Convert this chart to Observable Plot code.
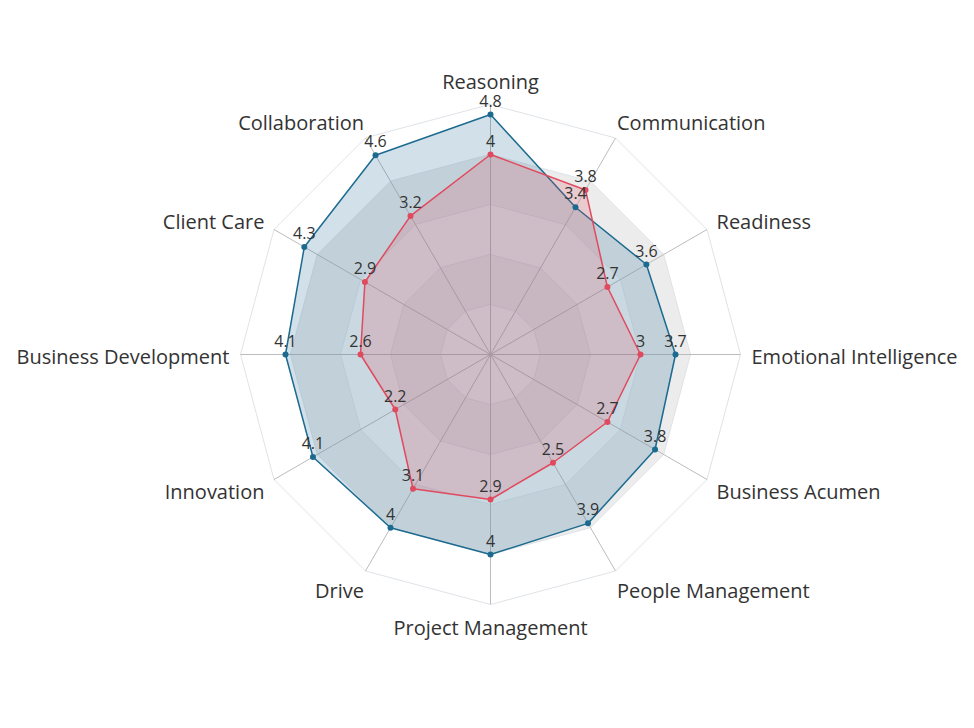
<!DOCTYPE html>
<html>
<head>
<meta charset="utf-8">
<script src="https://cdn.jsdelivr.net/npm/d3@7"></script>
<script src="https://cdn.jsdelivr.net/npm/@observablehq/plot@0.6"></script>
<style>
  html, body { margin: 0; padding: 0; background: #fff; }
  #chart svg { display: block; }
</style>
</head>
<body>
<div id="chart"></div>
<script>
// ---- data ----
const axes = [
  "Reasoning", "Communication", "Readiness", "Emotional Intelligence",
  "Business Acumen", "People Management", "Project Management", "Drive",
  "Innovation", "Business Development", "Client Care", "Collaboration"
];
const seriesBlue = [4.8, 3.4, 3.6, 3.7, 3.8, 3.9, 4, 4, 4.1, 4.1, 4.3, 4.6];
const seriesRed  = [4, 3.8, 2.7, 3, 2.7, 2.5, 2.9, 3.1, 2.2, 2.6, 2.9, 3.2];
const ringTicks = [1, 2, 3, 4, 5];

// ---- helpers ----
const n = axes.length;
const ang = i => (i * 2 * Math.PI) / n;
const px = (v, i) => v * Math.sin(ang(i));
const py = (v, i) => v * Math.cos(ang(i));
const maxV = d3.max(ringTicks);
const unit = 50; // pixels per value unit

const blueColor = "#1c6a8f";
const redColor = "#e04a5e";
const bandFill = t => (t % 2 === 0 ? "#ececec" : (t === maxV ? "#ffffff" : "#f6f6f6"));

const ringRows = t => axes.map((a, i) => ({ring: t, x: px(t, i), y: py(t, i)}));
const seriesRows = vals => vals.map((v, i) => ({axis: axes[i], value: v, x: px(v, i), y: py(v, i)}));
const blueRows = seriesRows(seriesBlue);
const redRows = seriesRows(seriesRed);
const axisRows = axes.map((a, i) => ({axis: a, i}));

const LR = 5.22;
const eps = 1e-6;
const sideOf = i => {
  const s = Math.sin(ang(i)), c = Math.cos(ang(i));
  if (Math.abs(s) < eps) return c > 0 ? "top" : "bottom";
  return s > 0 ? "right" : "left";
};
// small pixel nudges for the outer labels
const labelDy = i => {
  const c = Math.cos(ang(i)), side = sideOf(i);
  if (side === "top") return -5;
  if (side === "bottom") return 5;
  return 3 - 9.2 * c;
};
const labelDx = i => {
  const s = Math.sin(ang(i));
  return Math.abs(Math.abs(s) - 0.5) < 0.01 ? -4 * Math.sign(s) : 0;
};
const labelX = d => px(LR, d.i) + labelDx(d.i) / unit;
const labelY = d => py(LR, d.i) - labelDy(d.i) / unit;

const marks = [];
// background bands (largest first)
ringTicks.slice().reverse().forEach(t => {
  marks.push(Plot.line(ringRows(t), {
    x: "x", y: "y", curve: "linear-closed",
    fill: bandFill(t), stroke: "#dfe3e8", strokeWidth: 1
  }));
});
// spokes
marks.push(Plot.link(axisRows, {
  x1: 0, y1: 0,
  x2: d => px(maxV, d.i), y2: d => py(maxV, d.i),
  stroke: "#bcbcbc", strokeWidth: 1
}));
// series
marks.push(Plot.line(blueRows, {x: "x", y: "y", curve: "linear-closed",
  fill: blueColor, fillOpacity: 0.2, stroke: blueColor, strokeWidth: 1.5}));
marks.push(Plot.line(redRows, {x: "x", y: "y", curve: "linear-closed",
  fill: redColor, fillOpacity: 0.2, stroke: redColor, strokeWidth: 1.5}));
marks.push(Plot.dot(blueRows, {x: "x", y: "y", r: 3, fill: blueColor, stroke: "none"}));
marks.push(Plot.dot(redRows, {x: "x", y: "y", r: 3, fill: redColor, stroke: "none"}));
// value labels
[blueRows, redRows].forEach(rows => {
  marks.push(Plot.text(rows, {x: "x", y: "y", text: d => String(d.value),
    dy: -13, fontSize: 16, fill: "#333", fontFamily: "Open Sans"}));
});
// axis labels
const labelCfg = {
  top:    {textAnchor: "middle", lineAnchor: "bottom"},
  bottom: {textAnchor: "middle", lineAnchor: "top"},
  right:  {textAnchor: "start", lineAnchor: "middle"},
  left:   {textAnchor: "end", lineAnchor: "middle"}
};
Object.entries(labelCfg).forEach(([side, cfg]) => {
  marks.push(Plot.text(axisRows.filter(d => sideOf(d.i) === side), {
    x: labelX, y: labelY, text: "axis", ...cfg,
    fontSize: 20, fill: "#333", fontFamily: "Open Sans"
  }));
});

const W = 974, H = 728, cx = 490, cy = 354;
const chart = Plot.plot({
  width: W, height: H,
  marginTop: 0, marginRight: 0, marginBottom: 0, marginLeft: 0,
  x: {domain: [-cx / unit, (W - cx) / unit], range: [0, W], axis: null},
  y: {domain: [-(H - cy) / unit, cy / unit], range: [H, 0], axis: null},
  style: {fontFamily: "Open Sans", background: "#fff"},
  marks
});
document.getElementById("chart").appendChild(chart);
</script>
</body>
</html>
